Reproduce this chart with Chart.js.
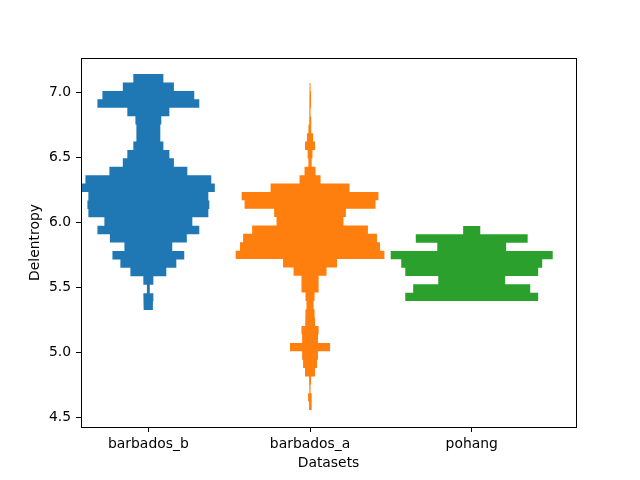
<!DOCTYPE html>
<html>
<head>
<meta charset="utf-8">
<script src="https://cdn.jsdelivr.net/npm/chart.js@4/dist/chart.umd.min.js"></script>
<style>
  html, body { margin: 0; padding: 0; background: #fff; }
</style>
</head>
<body>
<canvas id="violinChart" width="640" height="480"></canvas>
<script>
// categories on the x axis (placed at 0, 1, 2)
const categories = ['barbados_b', 'barbados_a', 'pohang'];
const yTicks = [4.5, 5.0, 5.5, 6.0, 6.5, 7.0];

// histogram half-widths (x units), listed from the lowest bin upward
const barbadosBStart = 5.327;
const barbadosBBin = 0.0648;
const barbadosB = [0.028, 0.031, 0.009, 0.031, 0.111, 0.173, 0.222, 0.148, 0.238, 0.315,
  0.272, 0.371, 0.377, 0.371, 0.411, 0.389, 0.241, 0.158, 0.130, 0.093,
  0.074, 0.074, 0.080, 0.130, 0.315, 0.284, 0.158, 0.093];

const barbadosAStart = 4.558;
const barbadosABin = 0.0645;
const barbadosA = [0.006, 0.012, 0.003, 0.006, 0.031, 0.043, 0.049, 0.124, 0.049, 0.053,
  0.031, 0.028, 0.022, 0.028, 0.053, 0.053, 0.102, 0.167, 0.460, 0.433,
  0.414, 0.358, 0.207, 0.222, 0.405, 0.423, 0.244, 0.065, 0.034, 0.010,
  0.015, 0.031, 0.019, 0.010, 0.006, 0.003, 0.006, 0.006, 0.003];

const pohangStart = 5.396;
const pohangBin = 0.0641;
const pohang = [0.411, 0.362, 0.207, 0.411, 0.436, 0.501, 0.213, 0.346, 0.053];

const colors = ['#1f77b4', '#ff7f0e', '#2ca02c'];

// step outline of a mirrored histogram: right side going up, left side coming down
function outline(center, start, bin, halfWidths) {
  const right = [];
  const left = [];
  halfWidths.forEach((w, i) => {
    const y0 = start + i * bin;
    const y1 = y0 + bin;
    right.push({ x: center + w, y: y0 }, { x: center + w, y: y1 });
    left.unshift({ x: center - w, y: y1 }, { x: center - w, y: y0 });
  });
  return right.concat(left);
}

const series = [
  [barbadosBStart, barbadosBBin, barbadosB],
  [barbadosAStart, barbadosABin, barbadosA],
  [pohangStart, pohangBin, pohang],
];

const datasets = series.map((s, i) => ({
  label: categories[i],
  data: outline(i, s[0], s[1], s[2]),
  backgroundColor: colors[i],
  borderColor: 'rgba(0,0,0,0)',
  borderWidth: 0,
  pointRadius: 0,
  tension: 0,
  fill: 'shape',
}));

const tickFont = { family: 'DejaVu Sans', size: 13.9 };

// black frame around the plot area
const frame = {
  id: 'frame',
  afterDraw(chart) {
    const { ctx, chartArea: a } = chart;
    ctx.save();
    ctx.strokeStyle = '#000';
    ctx.lineWidth = 1;
    ctx.strokeRect(Math.round(a.left) + 0.5, Math.round(a.top) + 0.5,
      Math.round(a.right - a.left), Math.round(a.bottom - a.top));
    ctx.restore();
  },
};

new Chart(document.getElementById('violinChart'), {
  type: 'line',
  data: { datasets },
  plugins: [frame],
  options: {
    responsive: false,
    devicePixelRatio: 1,
    animation: false,
    layout: { padding: { left: 0, top: 58, right: 64, bottom: 0 } },
    plugins: {
      legend: { display: false },
      tooltip: { enabled: false },
    },
    scales: {
      x: {
        type: 'linear',
        min: -0.4166,
        max: 2.645,
        afterBuildTicks: (scale) => {
          scale.ticks = categories.map((c, i) => ({ value: i }));
        },
        afterFit: (scale) => { scale.height = 53; },
        ticks: {
          callback: (v) => categories[v],
          font: tickFont,
          color: '#000',
          padding: 4,
          maxRotation: 0,
          autoSkip: false,
        },
        grid: { drawOnChartArea: false, drawTicks: true, tickLength: 5, tickColor: '#000' },
        border: { display: false },
        title: {
          display: true,
          text: 'Datasets',
          font: { family: 'DejaVu Sans', size: 13.9, lineHeight: 1.2 },
          color: '#000',
          padding: { top: 0, bottom: 8.5 },
        },
      },
      y: {
        type: 'linear',
        min: 4.427,
        max: 7.265,
        afterBuildTicks: (scale) => {
          scale.ticks = yTicks.map((v) => ({ value: v }));
        },
        afterFit: (scale) => { scale.width = 81; },
        ticks: {
          callback: (v) => v.toFixed(1),
          font: tickFont,
          color: '#000',
          padding: 5,
        },
        grid: { drawOnChartArea: false, drawTicks: true, tickLength: 5, tickColor: '#000' },
        border: { display: false },
        title: {
          display: true,
          text: 'Delentropy',
          font: { family: 'DejaVu Sans', size: 13.9, lineHeight: 1.2 },
          color: '#000',
          padding: { top: 27, bottom: 0 },
        },
      },
    },
  },
});
</script>
</body>
</html>
